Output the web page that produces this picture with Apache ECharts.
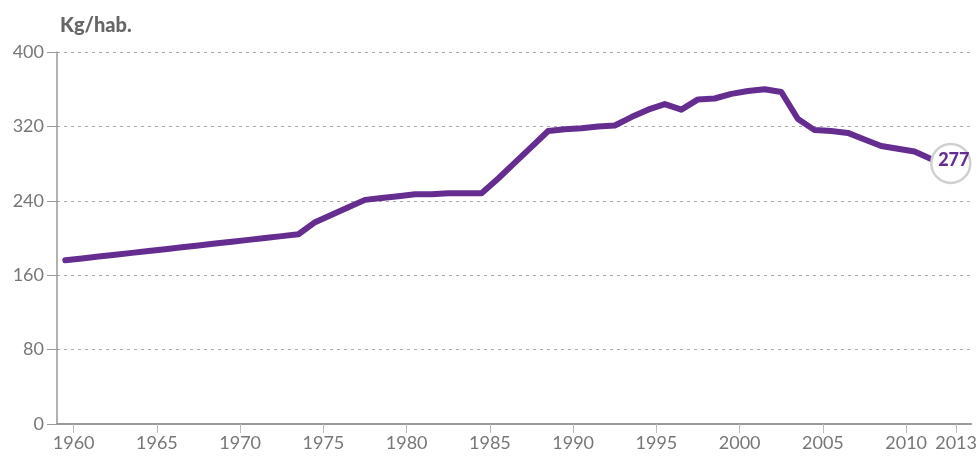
<!DOCTYPE html>
<html>
<head>
<meta charset="utf-8">
<title>Kg/hab.</title>
<script src="https://cdn.jsdelivr.net/npm/echarts@6/dist/echarts.min.js"></script>
<style>
    html, body {margin: 0; padding: 0; background: #fff;}
    #chart {width: 980px; height: 461px;}
</style>
</head>
<body>
<div id="chart"></div>
<script>
// años (cada valor se dibuja en el centro de su año)
const years = [
    1959, 1960, 1961, 1962, 1963, 1964, 1965, 1966, 1967, 1968,
    1969, 1970, 1971, 1972, 1973, 1974, 1975, 1976, 1977, 1978,
    1979, 1980, 1981, 1982, 1983, 1984, 1985, 1986, 1987, 1988,
    1989, 1990, 1991, 1992, 1993, 1994, 1995, 1996, 1997, 1998,
    1999, 2000, 2001, 2002, 2003, 2004, 2005, 2006, 2007, 2008,
    2009, 2010, 2011, 2012
];

// kg por habitante
const values = [
    176, 178, 180, 182, 184, 186, 188, 190, 192, 194,
    196, 198, 200, 202, 204, 217, 225, 233, 241, 243,
    245, 247, 247, 248, 248, 248, 264, 281, 298, 315,
    317, 318, 320, 321, 330, 338, 344, 338, 349, 350,
    355, 358, 360, 357, 328, 316, 315, 313, 306, 299,
    296, 293, 285, 277
];

const yearTicks = [1960, 1965, 1970, 1975, 1980, 1985, 1990, 1995, 2000, 2005, 2010, 2013];

const FONT = 'Lato, "Source Sans Pro", sans-serif';
const PURPLE = '#662d91';

const points = years.map((y, i) => [y + 0.5, values[i]]);
const last = points[points.length - 1];

const chart = echarts.init(document.getElementById('chart'));

chart.setOption({
    animation: false,
    title: {
        text: 'Kg/hab.',
        left: 55,
        top: 11,
        textStyle: {color: '#666', fontSize: 20, fontWeight: 900, fontFamily: FONT}
    },
    grid: {left: 57, right: 8, top: 52, bottom: 37},
    xAxis: {
        type: 'value',
        min: 1959,
        max: 2013.9,
        splitLine: {show: false},
        axisLine: {show: true, lineStyle: {color: '#999', width: 2}},
        axisTick: {show: true, customValues: yearTicks, length: 9, lineStyle: {color: '#bbb', width: 1}},
        axisLabel: {
            customValues: yearTicks,
            color: '#777',
            fontSize: 18,
            fontFamily: FONT,
            margin: 10,
            formatter: v => String(v)
        }
    },
    yAxis: {
        type: 'value',
        min: 0,
        max: 400,
        interval: 80,
        axisLine: {show: true, lineStyle: {color: '#999', width: 1.5}},
        axisTick: {show: true, length: 10, lineStyle: {color: '#999', width: 1}},
        axisLabel: {color: '#777', fontSize: 18, fontFamily: FONT, margin: 13},
        splitLine: {show: true, lineStyle: {color: '#aaa', type: [3, 4], width: 1}}
    },
    series: [
        {
            type: 'line',
            data: points,
            symbol: 'none',
            lineStyle: {color: PURPLE, width: 6, cap: 'round', join: 'round'},
            z: 2
        },
        {
            type: 'scatter',
            data: [last],
            symbol: 'circle',
            symbolSize: 39,
            symbolOffset: [3, -3],
            itemStyle: {color: '#fff', opacity: 1, borderColor: '#d0d0d0', borderWidth: 2.5},
            label: {
                show: true,
                position: 'inside',
                offset: [3, -3],
                formatter: p => String(p.value[1]),
                color: PURPLE,
                fontSize: 18,
                fontWeight: 900,
                fontFamily: FONT
            },
            z: 3
        }
    ]
});
</script>
</body>
</html>
